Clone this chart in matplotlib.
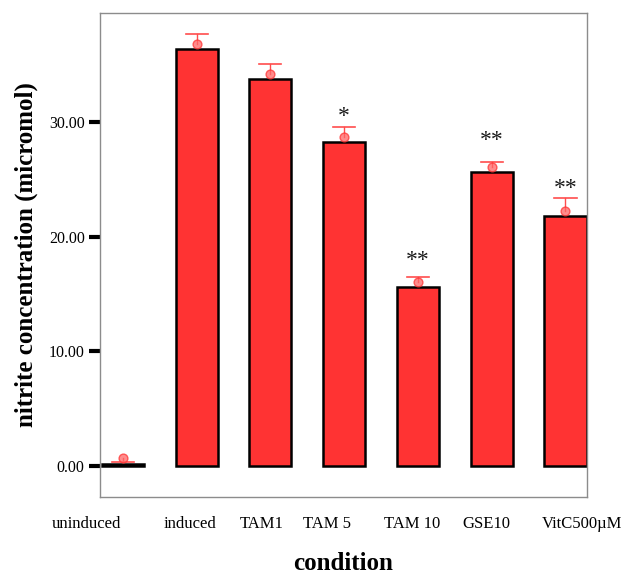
import numpy as np
import matplotlib
matplotlib.use("Agg")
from matplotlib import pyplot as plt
from matplotlib import transforms

# values
conditions = ['uninduced', 'induced', 'TAM1', 'TAM 5', 'TAM 10', 'GSE10', 'VitC500\u00b5M']
bar_vals = [0.15, 36.35, 33.75, 28.27, 15.63, 25.66, 21.8]
mean_vals = [0.65, 36.85, 34.2, 28.7, 16.05, 26.1, 22.25]
upper_vals = [0.35, 37.7, 35.1, 29.6, 16.5, 26.55, 23.4]
stars = ['', '', '', '*', '**', '**', '**']
star_y = [0, 0, 0, 30.9, 18.3, 28.8, 24.6]
yticks = [0.0, 10.0, 20.0, 30.0]

plt.rcParams['font.family'] = ['Liberation Serif', 'DejaVu Serif']

fig = plt.figure(figsize=(6.25, 5.75), dpi=100)
ax = fig.add_axes([0.16, 0.136, 0.779, 0.841])

x = np.arange(len(conditions))
ax.bar(x, bar_vals, width=0.57, color='#ff3333', edgecolor='black', linewidth=1.8, zorder=2)

# error whiskers from the mean point up to the cap
for xi, m, u in zip(x, mean_vals, upper_vals):
    ax.plot([xi, xi], [m, u], color='#ff4d4d', linewidth=1, zorder=3)
    ax.plot([xi - 0.15, xi + 0.15], [u, u], color='#ff4d4d', linewidth=1.2, zorder=3)
ax.scatter(x, mean_vals, s=40, color='#ff6666', edgecolor='#ff3333', alpha=0.75, zorder=4)

# significance marks (glyph sits high in its box, so shift the anchor down)
for xi, sy, s in zip(x, star_y, stars):
    if s:
        ax.annotate(s, (xi, sy), xytext=(0, -11), textcoords='offset points',
                    ha='center', va='bottom', fontsize=17, color='#1a1a1a')

ax.set_xlim(-0.31, 6.29)
ax.set_ylim(-2.7, 39.5)
ax.set_yticks(yticks)
ax.set_yticklabels(['%.2f' % v for v in yticks], fontsize=11.5)
ax.tick_params(axis='y', direction='out', length=8, width=3, color='black', pad=3)

ax.set_xticks(x)
ax.set_xticklabels(conditions, fontsize=12)
ax.tick_params(axis='x', length=0, pad=14)
ax.set_xticks([1, 3, 5], minor=True)
ax.tick_params(axis='x', which='minor', length=2, width=1.5, color='black', direction='out')

# SPSS-style label shifts (pixels)
shifts = [-36, -7, -9, -17, -6, -5, 17]
for lab, dx in zip(ax.get_xticklabels(), shifts):
    lab.set_transform(lab.get_transform() + transforms.ScaledTranslation(dx / 100, 0, fig.dpi_scale_trans))

for sp in ax.spines.values():
    sp.set_color('#8c8c8c')
    sp.set_linewidth(1)

ax.set_ylabel('nitrite concentration (micromol)', fontsize=18, fontweight='bold', labelpad=8)
ax.set_xlabel('condition', fontsize=18, fontweight='bold', labelpad=14)

fig.savefig('out.png', dpi=100)
